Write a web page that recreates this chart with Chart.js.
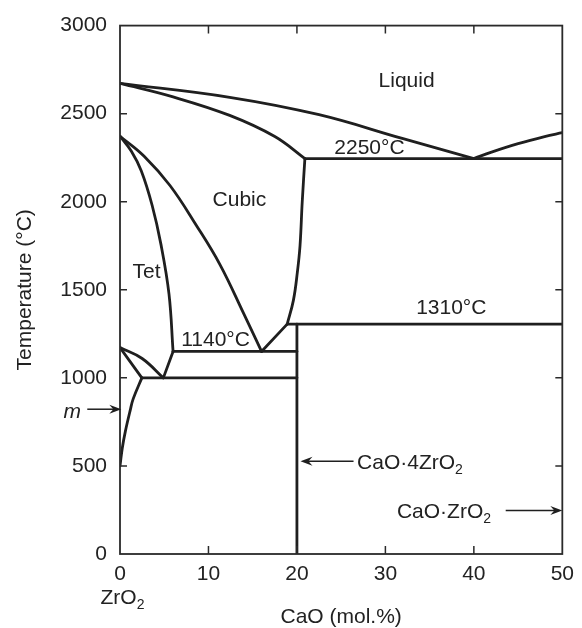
<!DOCTYPE html>
<html>
<head>
<meta charset="utf-8">
<script src="https://cdn.jsdelivr.net/npm/chart.js@4.4.1/dist/chart.umd.min.js"></script>
<style>
  html, body { margin: 0; padding: 0; background: #fff; }
  #wrap { width: 582px; height: 628px; }
</style>
</head>
<body>
<div id="wrap"><canvas id="phaseChart" width="582" height="628"></canvas></div>
<script>
"use strict";

// axis ticks
var xTicks = [0, 10, 20, 30, 40, 50];
var yTicks = [0, 500, 1000, 1500, 2000, 2500, 3000];

// phase boundaries as [CaO mol.%, temperature °C]
var liquidusLeft = [[0, 2672], [12.4, 2593], [22.5, 2494], [32, 2358], [40, 2245]];
var liquidusRight = [[40, 2245], [42, 2282], [45, 2330], [48, 2370], [50, 2392]];
var cubicSolidus = [[0, 2672], [6, 2595], [12.4, 2490], [17.5, 2370], [20.9, 2245]];
var cubicRight = [[20.9, 2245], [20.6, 2000], [20.35, 1750], [20.05, 1600], [19.6, 1440], [18.9, 1305]];
var tetRight = [[0, 2372], [1.27, 2288], [2.4, 2176], [3.63, 1980], [4.64, 1755], [5.54, 1475], [6.0, 1150]];
var cubicLeft = [[0, 2372], [2.7, 2260], [5.65, 2092], [8.6, 1868], [11.3, 1643], [14.0, 1363], [16.0, 1150]];
var cubicLowerLeg = [[16.0, 1150], [18.9, 1305]];
var tetLowerLeg = [[6.0, 1150], [4.9, 1000]];
var tetMonoUpper = [[0, 1172], [2.5, 1110], [4.9, 1000]];
var tetMonoLower = [[0, 1172], [2.47, 1000]];
var monoBoundary = [[2.47, 1000], [1.5, 882], [1.16, 817], [0.6, 695], [0.26, 602], [0, 500]];
var line2250 = [[20.9, 2245], [50, 2245]];
var line1310 = [[18.9, 1305], [50, 1305]];
var line1140 = [[6.0, 1150], [20, 1150]];
var line1000 = [[2.47, 1000], [20, 1000]];
var compoundLine = [[20, 0], [20, 1305]];

var curvedLines = [liquidusLeft, liquidusRight, cubicSolidus, cubicRight, tetRight, cubicLeft, tetMonoUpper, monoBoundary];
var straightLines = [cubicLowerLeg, tetLowerLeg, tetMonoLower, line2250, line1310, line1140, line1000, compoundLine];

var ink = '#1f1f1f';
var textColor = '#222';
var family = '"Liberation Sans", Arial, Helvetica, sans-serif';

function toPoints(pairs) {
    return pairs.map(function (p) { return { x: p[0], y: p[1] }; });
}

function makeDataset(pairs, tension) {
    return {
        data: toPoints(pairs),
        showLine: true,
        borderColor: ink,
        borderWidth: 2.8,
        pointRadius: 0,
        pointHoverRadius: 0,
        tension: tension,
        fill: false,
        borderCapStyle: 'round',
        borderJoinStyle: 'round'
    };
}

var datasets = [];
curvedLines.forEach(function (l) { datasets.push(makeDataset(l, 0.4)); });
straightLines.forEach(function (l) { datasets.push(makeDataset(l, 0)); });

function drawArrow(ctx, x1, y1, x2, y2) {
    var ang = Math.atan2(y2 - y1, x2 - x1);
    var len = 12, half = 4.5;
    ctx.beginPath();
    ctx.moveTo(x1, y1);
    ctx.lineTo(x2 - Math.cos(ang) * 6, y2 - Math.sin(ang) * 6);
    ctx.lineWidth = 1.5;
    ctx.strokeStyle = ink;
    ctx.stroke();
    ctx.save();
    ctx.translate(x2, y2);
    ctx.rotate(ang);
    ctx.beginPath();
    ctx.moveTo(0, 0);
    ctx.lineTo(-len, -half);
    ctx.lineTo(-len + 4, 0);
    ctx.lineTo(-len, half);
    ctx.closePath();
    ctx.fillStyle = ink;
    ctx.fill();
    ctx.restore();
}

// text with a trailing subscript
function drawChem(ctx, main, sub, x, baseline) {
    ctx.textAlign = 'left';
    ctx.textBaseline = 'alphabetic';
    ctx.font = '21px ' + family;
    ctx.fillText(main, x, baseline);
    var w = ctx.measureText(main).width;
    ctx.font = '14px ' + family;
    ctx.fillText(sub, x + w, baseline + 5);
}

var diagramDecor = {
    id: 'diagramDecor',
    afterDatasetsDraw: function (chart) {
        var ctx = chart.ctx;
        var a = chart.chartArea;
        var xs = chart.scales.x, ys = chart.scales.y;
        var px = function (v) { return xs.getPixelForValue(v); };
        var py = function (v) { return ys.getPixelForValue(v); };

        ctx.save();
        // frame
        ctx.strokeStyle = '#2a2a2a';
        ctx.lineWidth = 1.8;
        ctx.strokeRect(a.left, a.top, a.right - a.left, a.bottom - a.top);

        // inward ticks on all four sides
        ctx.lineWidth = 1.5;
        ctx.beginPath();
        xTicks.slice(1, -1).forEach(function (v) {
            var x = px(v);
            ctx.moveTo(x, a.bottom); ctx.lineTo(x, a.bottom - 8);
            ctx.moveTo(x, a.top); ctx.lineTo(x, a.top + 8);
        });
        yTicks.slice(1, -1).forEach(function (v) {
            var y = py(v);
            ctx.moveTo(a.left, y); ctx.lineTo(a.left + 7, y);
            ctx.moveTo(a.right, y); ctx.lineTo(a.right - 7, y);
        });
        ctx.stroke();

        // region and isotherm labels
        ctx.fillStyle = textColor;
        ctx.font = '21px ' + family;
        ctx.textAlign = 'center';
        ctx.textBaseline = 'middle';
        [['Liquid', 32.4, 2686], ['2250°C', 28.2, 2305], ['Cubic', 13.5, 2008],
         ['Tet', 3.0, 1602], ['1140°C', 10.8, 1214], ['1310°C', 37.45, 1397]].forEach(function (t) {
            ctx.fillText(t[0], px(t[1]), py(t[2]));
        });

        // compound labels with arrows
        drawChem(ctx, 'CaO·4ZrO', '2', px(26.8), py(481));
        drawArrow(ctx, px(26.4), py(527), px(20.4), py(527));
        drawChem(ctx, 'CaO·ZrO', '2', px(31.3), py(202));
        drawArrow(ctx, px(43.6), py(247), px(50), py(247));

        // monoclinic marker
        ctx.font = 'italic 21px ' + family;
        ctx.textAlign = 'left';
        ctx.textBaseline = 'alphabetic';
        ctx.fillText('m', px(-6.4), py(770));
        drawArrow(ctx, px(-3.7), py(822), px(0.15), py(822));

        // end member under the axis
        drawChem(ctx, 'ZrO', '2', px(-2.2), py(-286));
        ctx.restore();
    }
};

var context = document.getElementById('phaseChart');
var phaseChart = new Chart(context, {
    type: 'scatter',
    data: { datasets: datasets },
    options: {
        responsive: false,
        animation: false,
        events: [],
        layout: { padding: { left: 0, top: 19, right: 17, bottom: 0 } },
        plugins: {
            legend: { display: false },
            tooltip: { enabled: false }
        },
        scales: {
            x: {
                type: 'linear',
                min: 0,
                max: 50,
                afterFit: function (s) { s.height = 74; },
                afterBuildTicks: function (s) { s.ticks = xTicks.map(function (v) { return { value: v }; }); },
                grid: { display: false, drawTicks: false },
                border: { display: false },
                ticks: { color: textColor, font: { family: family, size: 21 }, padding: 8, maxRotation: 0,
                         callback: function (v) { return String(v); } },
                title: { display: true, text: 'CaO (mol.%)', color: textColor, font: { family: family, size: 21, lineHeight: 1 }, padding: 0 }
            },
            y: {
                type: 'linear',
                min: 0,
                max: 3000,
                afterFit: function (s) { s.width = 120; },
                afterBuildTicks: function (s) { s.ticks = yTicks.map(function (v) { return { value: v }; }); },
                grid: { display: false, drawTicks: false },
                border: { display: false },
                ticks: { color: textColor, font: { family: family, size: 21 }, padding: 13,
                         callback: function (v) { return String(v); } },
                title: { display: true, text: 'Temperature (°C)', color: textColor, font: { family: family, size: 21, lineHeight: 1.2 }, padding: { top: 13 } }
            }
        }
    },
    plugins: [diagramDecor]
});
</script>
</body>
</html>
